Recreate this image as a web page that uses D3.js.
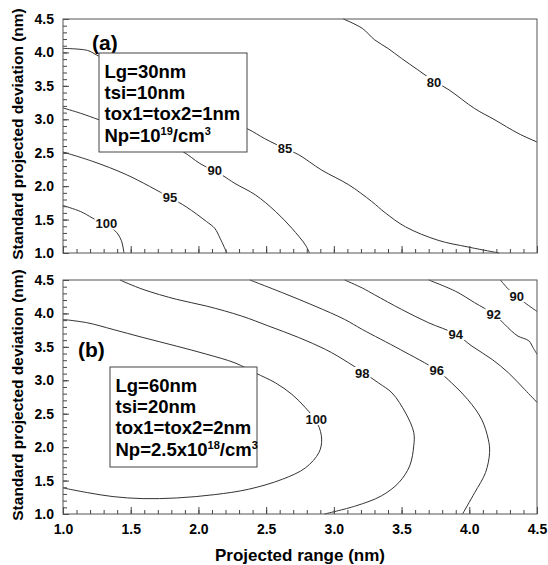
<!DOCTYPE html>
<html>
<head>
<meta charset="utf-8">
<script src="https://cdn.jsdelivr.net/npm/d3@7"></script>
<style>
  body { margin: 0; background: #fff; }
  text { font-family: Arial, "Liberation Sans", sans-serif; font-weight: bold; }
</style>
</head>
<body>
<svg width="548" height="565"></svg>
<script>
// axis ticks (both axes, both panels)
const xMajor = [1.0, 1.5, 2.0, 2.5, 3.0, 3.5, 4.0, 4.5];
const yMajor = [1.0, 1.5, 2.0, 2.5, 3.0, 3.5, 4.0, 4.5];

// panel (a) contours, [projected range, standard deviation]
const a100 = [[1.0, 1.71], [1.13, 1.62], [1.22, 1.52], [1.38, 1.34], [1.43, 1.19], [1.45, 1.0]];
const a95 = [[1.0, 2.51], [1.22, 2.37], [1.47, 2.17], [1.79, 1.83], [1.91, 1.69], [2.06, 1.47], [2.12, 1.37], [2.16, 1.22], [2.21, 1.0]];
const a90 = [[1.0, 3.17], [1.13, 3.09], [1.27, 2.99], [1.48, 2.85], [1.7, 2.68], [1.89, 2.51], [2.01, 2.34], [2.17, 2.17], [2.27, 2.04], [2.42, 1.87], [2.57, 1.62], [2.69, 1.37], [2.79, 1.12], [2.82, 1.0]];
const a85 = [[1.0, 4.06], [1.18, 4.03], [1.25, 3.96], [1.6, 3.6], [2.0, 3.17], [2.36, 2.86], [2.49, 2.71], [2.64, 2.56], [2.74, 2.47], [2.91, 2.24], [3.11, 2.02], [3.28, 1.77], [3.38, 1.6], [3.53, 1.39], [3.77, 1.19], [3.99, 1.09], [4.22, 1.0]];
const a80 = [[3.07, 4.5], [3.21, 4.36], [3.3, 4.19], [3.4, 4.06], [3.5, 3.91], [3.62, 3.74], [3.74, 3.57], [3.85, 3.44], [4.04, 3.16], [4.19, 2.99], [4.36, 2.79], [4.5, 2.66]];
const levelsA = [100, 95, 90, 85, 80];
const labelPosA = [[1.32, 1.44], [1.79, 1.84], [2.12, 2.24], [2.64, 2.57], [3.74, 3.56]];
const infoA = ['Lg=30nm', 'tsi=10nm', 'tox1=tox2=1nm', 'Np=10^{19}/cm^{3}'];

// panel (b) contours
const b100 = [[1.0, 3.91], [1.18, 3.86], [1.37, 3.76], [1.59, 3.64], [1.84, 3.51], [2.06, 3.39], [2.27, 3.26], [2.42, 3.11], [2.57, 2.96], [2.69, 2.79], [2.79, 2.59], [2.88, 2.35], [2.91, 2.12], [2.89, 1.92], [2.79, 1.69], [2.62, 1.52], [2.37, 1.37], [2.12, 1.29], [1.84, 1.24], [1.59, 1.23], [1.37, 1.26], [1.18, 1.32], [1.0, 1.39]];
const b98 = [[1.42, 4.5], [1.59, 4.36], [1.84, 4.21], [2.06, 4.11], [2.32, 3.96], [2.52, 3.81], [2.74, 3.64], [2.94, 3.46], [3.11, 3.26], [3.33, 2.96], [3.43, 2.81], [3.53, 2.51], [3.59, 2.22], [3.59, 2.02], [3.56, 1.72], [3.48, 1.47], [3.35, 1.27], [3.16, 1.12], [2.93, 1.0]];
const b96 = [[2.38, 4.5], [2.62, 4.31], [2.86, 4.11], [3.08, 3.91], [3.21, 3.76], [3.49, 3.46], [3.76, 3.15], [3.87, 2.96], [3.99, 2.71], [4.09, 2.42], [4.14, 2.12], [4.15, 1.92], [4.12, 1.62], [4.04, 1.32], [3.95, 1.0]];
const b94 = [[3.08, 4.5], [3.21, 4.38], [3.3, 4.28], [3.5, 4.06], [3.7, 3.86], [3.9, 3.69], [4.02, 3.51], [4.17, 3.31], [4.29, 3.11], [4.41, 2.86], [4.5, 2.67]];
const b92 = [[3.7, 4.5], [3.9, 4.33], [4.04, 4.16], [4.18, 3.99], [4.26, 3.84], [4.31, 3.74], [4.36, 3.66], [4.44, 3.59], [4.47, 3.49], [4.5, 3.39]];
const b90 = [[4.23, 4.5], [4.29, 4.36], [4.35, 4.26], [4.41, 4.16], [4.5, 4.03]];
const levelsB = [100, 98, 96, 94, 92, 90];
const labelPosB = [[2.87, 2.42], [3.21, 3.11], [3.76, 3.15], [3.9, 3.69], [4.18, 3.99], [4.35, 4.26]];
const infoB = ['Lg=60nm', 'tsi=20nm', 'tox1=tox2=2nm', 'Np=2.5x10^{18}/cm^{3}'];

const svg = d3.select('svg');
const x = d3.scaleLinear().domain([1, 4.5]).range([63, 537]);

// text like 'Np=10^{19}/cm^{3}' -> tspans with superscripts
function richText(sel, str, size, supSize) {
  const parts = str.split(/\^\{|\}/);
  parts.forEach(function(p, i) {
    if (!p) return;
    const sup = i % 2 == 1;
    sel.append('tspan')
      .attr('font-size', sup ? supSize : size)
      .attr('dy', sup ? -7 : (i > 0 ? 7 : 0))
      .text(p);
  });
}

function drawPanel(opts) {
  const y = d3.scaleLinear().domain([1, 4.5]).range([opts.bottom, opts.top]);
  const g = svg.append('g');

  g.append('clipPath').attr('id', 'clip-' + opts.name)
    .append('rect').attr('x', x(1)).attr('y', y(4.5))
    .attr('width', x(4.5) - x(1)).attr('height', y(1) - y(4.5));

  const line = d3.line()
    .x(function(d) { return x(d[0]); })
    .y(function(d) { return y(d[1]); })
    .curve(d3.curveCatmullRom.alpha(0.5));

  g.append('g').attr('clip-path', 'url(#clip-' + opts.name + ')')
    .selectAll('path').data(opts.lines).join('path')
    .attr('d', line).attr('fill', 'none')
    .attr('stroke', '#333').attr('stroke-width', 1);

  // contour labels with a white gap behind them
  const labs = g.selectAll('g.lab').data(opts.levels).join('g').attr('class', 'lab')
    .attr('transform', function(d, i) {
      return 'translate(' + x(opts.labelPos[i][0]) + ',' + y(opts.labelPos[i][1]) + ')';
    });
  labs.append('rect').attr('x', -10).attr('y', -6).attr('height', 12).attr('fill', '#fff')
    .attr('width', 20);
  labs.append('text').attr('text-anchor', 'middle').attr('dy', '0.36em')
    .attr('font-size', 13).attr('fill', '#111').text(function(d) { return d; });
  labs.each(function() {
    const t = d3.select(this).select('text').node().getBBox();
    d3.select(this).select('rect').attr('x', t.x - 1).attr('width', t.width + 2);
  });

  // ticks point inwards; minor every 0.1
  const bottom = g.append('g').attr('transform', 'translate(0,' + opts.bottom + ')');
  bottom.append('g').call(d3.axisBottom(x).ticks(35).tickSize(-4).tickFormat(''));
  bottom.append('g').call(d3.axisBottom(x).tickValues(xMajor).tickSize(-7).tickPadding(10)
    .tickFormat(opts.xLabels ? d3.format('.1f') : ''));
  const left = g.append('g').attr('transform', 'translate(63,0)');
  left.append('g').call(d3.axisLeft(y).ticks(35).tickSize(-4).tickFormat(''));
  left.append('g').call(d3.axisLeft(y).tickValues(yMajor).tickSize(-6).tickPadding(9)
    .tickFormat(d3.format('.1f')));
  g.selectAll('.domain').remove();
  g.selectAll('.tick line').attr('stroke', '#444');
  g.selectAll('.tick text').attr('font-size', 14).attr('fill', '#000')
    .attr('font-family', 'Arial, "Liberation Sans", sans-serif');

  g.append('rect').attr('x', x(1)).attr('y', y(4.5))
    .attr('width', x(4.5) - x(1)).attr('height', y(1) - y(4.5))
    .attr('fill', 'none').attr('stroke', '#555');

  // panel tag
  g.append('text').attr('x', opts.tag[0]).attr('y', opts.tag[1])
    .attr('font-size', 21).attr('fill', '#000').text(opts.name);

  // parameter box
  const b = opts.box;
  g.append('rect').attr('x', b[0]).attr('y', b[1]).attr('width', b[2]).attr('height', b[3])
    .attr('fill', '#fff').attr('stroke', '#444');
  opts.info.forEach(function(s, i) {
    const t = g.append('text').attr('x', b[0] + 5.5).attr('y', b[1] + 24.5 + i * 21.4)
      .attr('fill', '#000');
    richText(t, s, 18.5, 11);
  });

  g.append('text').attr('transform', 'translate(23,' + ((opts.top + opts.bottom) / 2 - 2) + ') rotate(-90)')
    .attr('text-anchor', 'middle').attr('font-size', 15.5).attr('fill', '#000')
    .text('Standard projected deviation (nm)');
}

drawPanel({
  name: '(a)', top: 19, bottom: 253, xLabels: false,
  lines: [a100, a95, a90, a85, a80], levels: levelsA, labelPos: labelPosA,
  info: infoA, box: [99, 53, 148, 99], tag: [92, 50],
});

drawPanel({
  name: '(b)', top: 280, bottom: 514, xLabels: true,
  lines: [b100, b98, b96, b94, b92, b90], levels: levelsB, labelPos: labelPosB,
  info: infoB, box: [110, 367, 147, 100], tag: [78, 357],
});

svg.append('text').attr('x', x(2.75)).attr('y', 561).attr('text-anchor', 'middle')
  .attr('font-size', 17).attr('fill', '#000').text('Projected range (nm)');
</script>
</body>
</html>
